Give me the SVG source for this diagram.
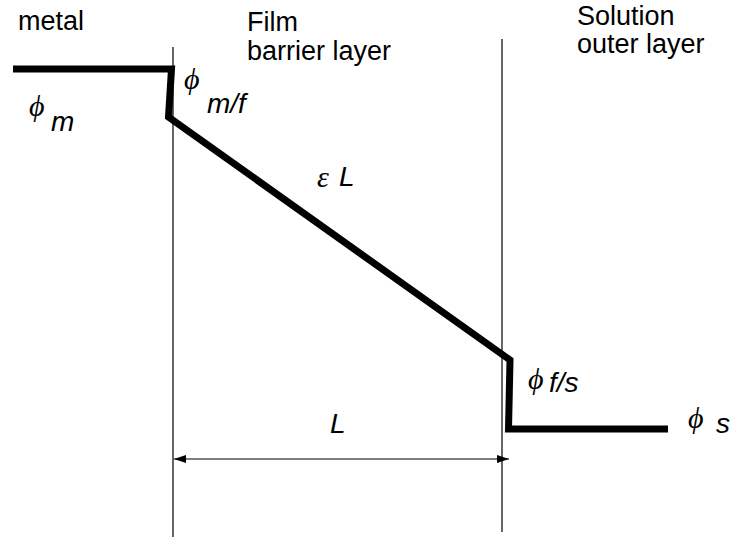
<svg xmlns="http://www.w3.org/2000/svg" width="733" height="540" viewBox="0 0 733 540">
<style>
.lbl{font-family:"Liberation Sans",Arial,sans-serif;font-size:27px;fill:#000}
.it{font-family:"Liberation Sans",Arial,sans-serif;font-size:28px;font-style:italic;fill:#000}
.gr{font-family:"Liberation Serif","DejaVu Serif",serif;font-size:30px;font-style:italic;fill:#000}
.thin{stroke:#000;stroke-width:1.2;fill:none}
.thick{stroke:#000;stroke-width:7;fill:none;stroke-linejoin:miter}
</style>
<defs>
<marker id="ah" viewBox="0 0 12 8" refX="12" refY="4" markerWidth="12" markerHeight="8" markerUnits="userSpaceOnUse" orient="auto-start-reverse">
<path d="M0,0 L12,4 L0,8 Z" fill="#000"/>
</marker>
</defs>
<rect width="733" height="540" fill="#fff"/>
<g id="boundaries">
<line class="thin" x1="173" y1="47" x2="173" y2="537"/>
<line class="thin" x1="502" y1="39" x2="502" y2="532"/>
</g>
<g id="connectors">
<path id="potential" class="thick" d="M13,69 L171.5,69 L168.5,117 L510,360 L508.5,429 L668,429"/>
<line id="dimL" class="thin" x1="174" y1="459" x2="509" y2="459" marker-start="url(#ah)" marker-end="url(#ah)"/>
</g>
<g id="metal"><text class="lbl" x="18" y="30">metal</text></g>
<g id="film"><text class="lbl" x="247" y="31">Film</text><text class="lbl" x="247" y="60">barrier layer</text></g>
<g id="solution"><text class="lbl" x="577" y="25">Solution</text><text class="lbl" x="577" y="53">outer layer</text></g>
<g id="phi-m"><text class="gr" x="29" y="116">ϕ</text><text class="it" x="51" y="131">m</text></g>
<g id="phi-mf"><text class="gr" x="184" y="89">ϕ</text><text class="it" x="207" y="113">m/f</text></g>
<g id="epsL"><text class="gr" x="317" y="187" style="font-size:30px">ε</text><text class="it" x="339" y="186">L</text></g>
<g id="phi-fs"><text class="gr" x="528" y="389">ϕ</text><text class="it" x="549" y="392">f/s</text></g>
<g id="phi-s"><text class="gr" x="688" y="428">ϕ</text><text class="it" x="716" y="433">s</text></g>
<g id="L"><text class="it" x="330" y="433">L</text></g>
</svg>
